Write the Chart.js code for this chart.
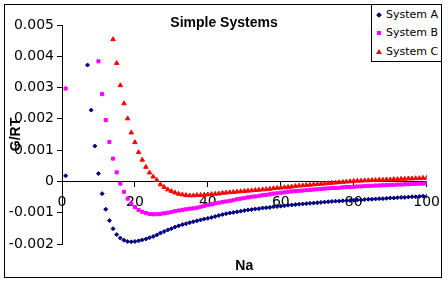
<!DOCTYPE html>
<html><head><meta charset="utf-8">
<script src="https://cdn.jsdelivr.net/npm/chart.js@4/dist/chart.umd.min.js"></script>
<style>
html,body{margin:0;padding:0;background:#fff;}
#wrap{position:relative;width:448px;height:283px;}
#legend{position:absolute;left:371px;top:4px;width:69px;height:56px;border:1px solid #000;background:#fff;font-family:'DejaVu Sans';font-size:11px;color:#000;}
.item{position:absolute;left:0;width:69px;height:14px;line-height:14px;white-space:nowrap;}
.item .t{position:absolute;left:14px;top:0;}
.mk{position:absolute;}
.dia{left:5px;top:5px;width:4px;height:4px;background:#000080;transform:rotate(45deg);}
.sq{left:5px;top:5px;width:4px;height:4px;background:#FF00FF;}
.tri{left:4px;top:4px;width:0;height:0;border-left:3px solid transparent;border-right:3px solid transparent;border-bottom:5px solid #FF0000;}
</style></head>
<body>
<div id="wrap">
<canvas id="c" width="448" height="283"></canvas>
<div id="legend">
  <div class="item" style="top:3px"><div class="mk dia"></div><span class="t">System A</span></div>
  <div class="item" style="top:21px"><div class="mk sq"></div><span class="t">System B</span></div>
  <div class="item" style="top:40px"><div class="mk tri"></div><span class="t">System C</span></div>
</div>
</div>
<script>
const seriesNames = ['System A', 'System B', 'System C'];
const xValues = [1,2,3,4,5,6,7,8,9,10,11,12,13,14,15,16,17,18,19,20,
 21,22,23,24,25,26,27,28,29,30,31,32,33,34,35,36,37,38,39,40,
 41,42,43,44,45,46,47,48,49,50,51,52,53,54,55,56,57,58,59,60,
 61,62,63,64,65,66,67,68,69,70,71,72,73,74,75,76,77,78,79,80,
 81,82,83,84,85,86,87,88,89,90,91,92,93,94,95,96,97,98,99,100];
const sysA = [0.00018,null,null,null,null,null,0.00372,0.00228,0.00113,0.00025,
 -0.00039,-0.00089,-0.00125,-0.00151,-0.00170,-0.00181,-0.00188,-0.00192,-0.00193,-0.00192,
 -0.00190,-0.00187,-0.00184,-0.00180,-0.00176,-0.00171,-0.00165,-0.00160,-0.00155,-0.00151,
 -0.00146,-0.00142,-0.00138,-0.00135,-0.00132,-0.00129,-0.00126,-0.00123,-0.00120,-0.00118,
 -0.00115,-0.00112,-0.00109,-0.00106,-0.00103,-0.00101,-0.00099,-0.00097,-0.00095,-0.00093,
 -0.00091,-0.00090,-0.00088,-0.00087,-0.00085,-0.00084,-0.00083,-0.00081,-0.00080,-0.00079,
 -0.00078,-0.00076,-0.00075,-0.00074,-0.00073,-0.00072,-0.00071,-0.00070,-0.00069,-0.00068,
 -0.00067,-0.00066,-0.00065,-0.00064,-0.00063,-0.00063,-0.00062,-0.00061,-0.00061,-0.00060,
 -0.00059,-0.00059,-0.00058,-0.00057,-0.00057,-0.00056,-0.00055,-0.00055,-0.00054,-0.00053,
 -0.00053,-0.00052,-0.00051,-0.00051,-0.00050,-0.00049,-0.00049,-0.00048,-0.00047,-0.00047];
const sysB = [0.00297,null,null,null,null,null,null,null,null,0.00384,
 0.00279,0.00196,0.00126,0.00073,0.00029,-0.00007,-0.00033,-0.00055,-0.00071,-0.00082,
 -0.00091,-0.00097,-0.00101,-0.00104,-0.00105,-0.00105,-0.00104,-0.00102,-0.00100,-0.00098,
 -0.00095,-0.00093,-0.00091,-0.00089,-0.00087,-0.00086,-0.00084,-0.00081,-0.00078,-0.00075,
 -0.00073,-0.00070,-0.00068,-0.00066,-0.00064,-0.00062,-0.00060,-0.00057,-0.00055,-0.00053,
 -0.00051,-0.00049,-0.00048,-0.00046,-0.00044,-0.00043,-0.00041,-0.00039,-0.00038,-0.00036,
 -0.00035,-0.00033,-0.00032,-0.00031,-0.00030,-0.00029,-0.00028,-0.00027,-0.00026,-0.00025,
 -0.00024,-0.00023,-0.00022,-0.00021,-0.00021,-0.00020,-0.00019,-0.00018,-0.00018,-0.00017,
 -0.00016,-0.00016,-0.00015,-0.00014,-0.00014,-0.00013,-0.00013,-0.00012,-0.00012,-0.00011,
 -0.00011,-0.00010,-0.00010,-0.00009,-0.00009,-0.00008,-0.00008,-0.00007,-0.00007,-0.00006];
const sysC = [null,null,null,null,null,null,null,null,null,null,
 null,null,null,0.00454,0.00378,0.00307,0.00249,0.00201,0.00156,0.00125,
 0.00093,0.00069,0.00046,0.00028,0.00015,0.00004,-0.00010,-0.00018,-0.00026,-0.00031,
 -0.00036,-0.00040,-0.00042,-0.00044,-0.00045,-0.00045,-0.00044,-0.00044,-0.00043,-0.00042,
 -0.00041,-0.00040,-0.00039,-0.00037,-0.00036,-0.00035,-0.00034,-0.00033,-0.00032,-0.00031,
 -0.00030,-0.00029,-0.00028,-0.00027,-0.00026,-0.00025,-0.00024,-0.00022,-0.00021,-0.00020,
 -0.00019,-0.00018,-0.00017,-0.00015,-0.00014,-0.00013,-0.00012,-0.00011,-0.00010,-0.00009,
 -0.00008,-0.00007,-0.00006,-0.00005,-0.00004,-0.00003,-0.00002,-0.00001,0.00000,0.00001,
 0.00002,0.00002,0.00003,0.00003,0.00004,0.00004,0.00005,0.00005,0.00006,0.00006,
 0.00007,0.00007,0.00008,0.00008,0.00009,0.00009,0.00010,0.00010,0.00011,0.00011];
const xTickLabels = ['0','20','40','60','80','100'];
const yTickLabels = ['-0.002','-0.001','0','0.001','0.002','0.003','0.004','0.005'];
const xMin = 0, xMax = 100, xStep = 20;
const yMin = -0.002, yMax = 0.005, yStep = 0.001;

function pts(arr){ return xValues.map((x,i)=>({x:x, y:arr[i]})); }

const framePlugin = {
  id:'frame',
  afterDraw(chart){
    const c = chart.ctx; c.save();
    c.strokeStyle = '#000'; c.lineWidth = 1;
    c.strokeRect(4.5, 4.5, 437, 273);
    c.restore();
  }
};

Chart.defaults.font.family = 'DejaVu Sans';
Chart.defaults.color = '#000';

new Chart(document.getElementById('c'), {
  type: 'scatter',
  data: { datasets: [
    {label: seriesNames[0], data: pts(sysA), pointStyle:'rectRot', pointRadius:2, pointBorderWidth:1,
     backgroundColor:'#000080', borderColor:'#000080'},
    {label: seriesNames[1], data: pts(sysB), pointStyle:'rect', pointRadius:2.2, pointBorderWidth:1,
     backgroundColor:'#FF00FF', borderColor:'#FF00FF'},
    {label: seriesNames[2], data: pts(sysC), pointStyle:'triangle', pointRadius:2.6, pointBorderWidth:1,
     backgroundColor:'#FF0000', borderColor:'#FF0000'}
  ]},
  options: {
    responsive:false, animation:false, devicePixelRatio:1,
    layout:{padding:0},
    plugins:{
      legend:{display:false}, tooltip:{enabled:false},
      title:{display:true, text:'Simple Systems', color:'#000',
        font:{family:'Liberation Sans', size:14, weight:'bold'}, padding:{top:15,bottom:-6.8}}
    },
    scales:{
      x:{type:'linear', position:{y:0}, min:xMin, max:xMax,
        ticks:{stepSize:xStep, padding:8, color:'#000', font:{family:'DejaVu Sans', size:14},
          callback:(v)=>xTickLabels[Math.round((v-xMin)/xStep)]},
        grid:{drawOnChartArea:false, drawTicks:true, tickLength:5, color:'#000'},
        border:{display:true, color:'#000', width:1}},
      x2:{type:'linear', axis:'x', position:'bottom', min:xMin, max:xMax,
        ticks:{display:false}, grid:{display:false}, border:{display:false},
        title:{display:true, text:'Na', color:'#000',
          font:{family:'Liberation Sans', size:14, weight:'bold'}, padding:{top:0,bottom:8}},
        afterFit(s){ s.height = 39; }},
      y:{type:'linear', position:'left', min:yMin, max:yMax,
        ticks:{stepSize:yStep, padding:3, color:'#000', font:{family:'DejaVu Sans', size:14},
          callback:(v)=>yTickLabels[Math.round((v-yMin)/yStep)]},
        grid:{drawOnChartArea:false, drawTicks:true, tickLength:5, color:'#000'},
        border:{display:true, color:'#000', width:1},
        title:{display:true, text:'G/RT', color:'#000',
          font:{family:'Liberation Sans', size:14, weight:'bold'}, padding:{top:8,bottom:0}},
        afterFit(s){ s.width = 62; }},
      yR:{type:'linear', axis:'y', position:'right', min:yMin, max:yMax,
        ticks:{display:false}, grid:{display:false}, border:{display:false},
        afterFit(s){ s.width = 20; }}
    }
  },
  plugins:[framePlugin]
});
</script>
</body></html>
